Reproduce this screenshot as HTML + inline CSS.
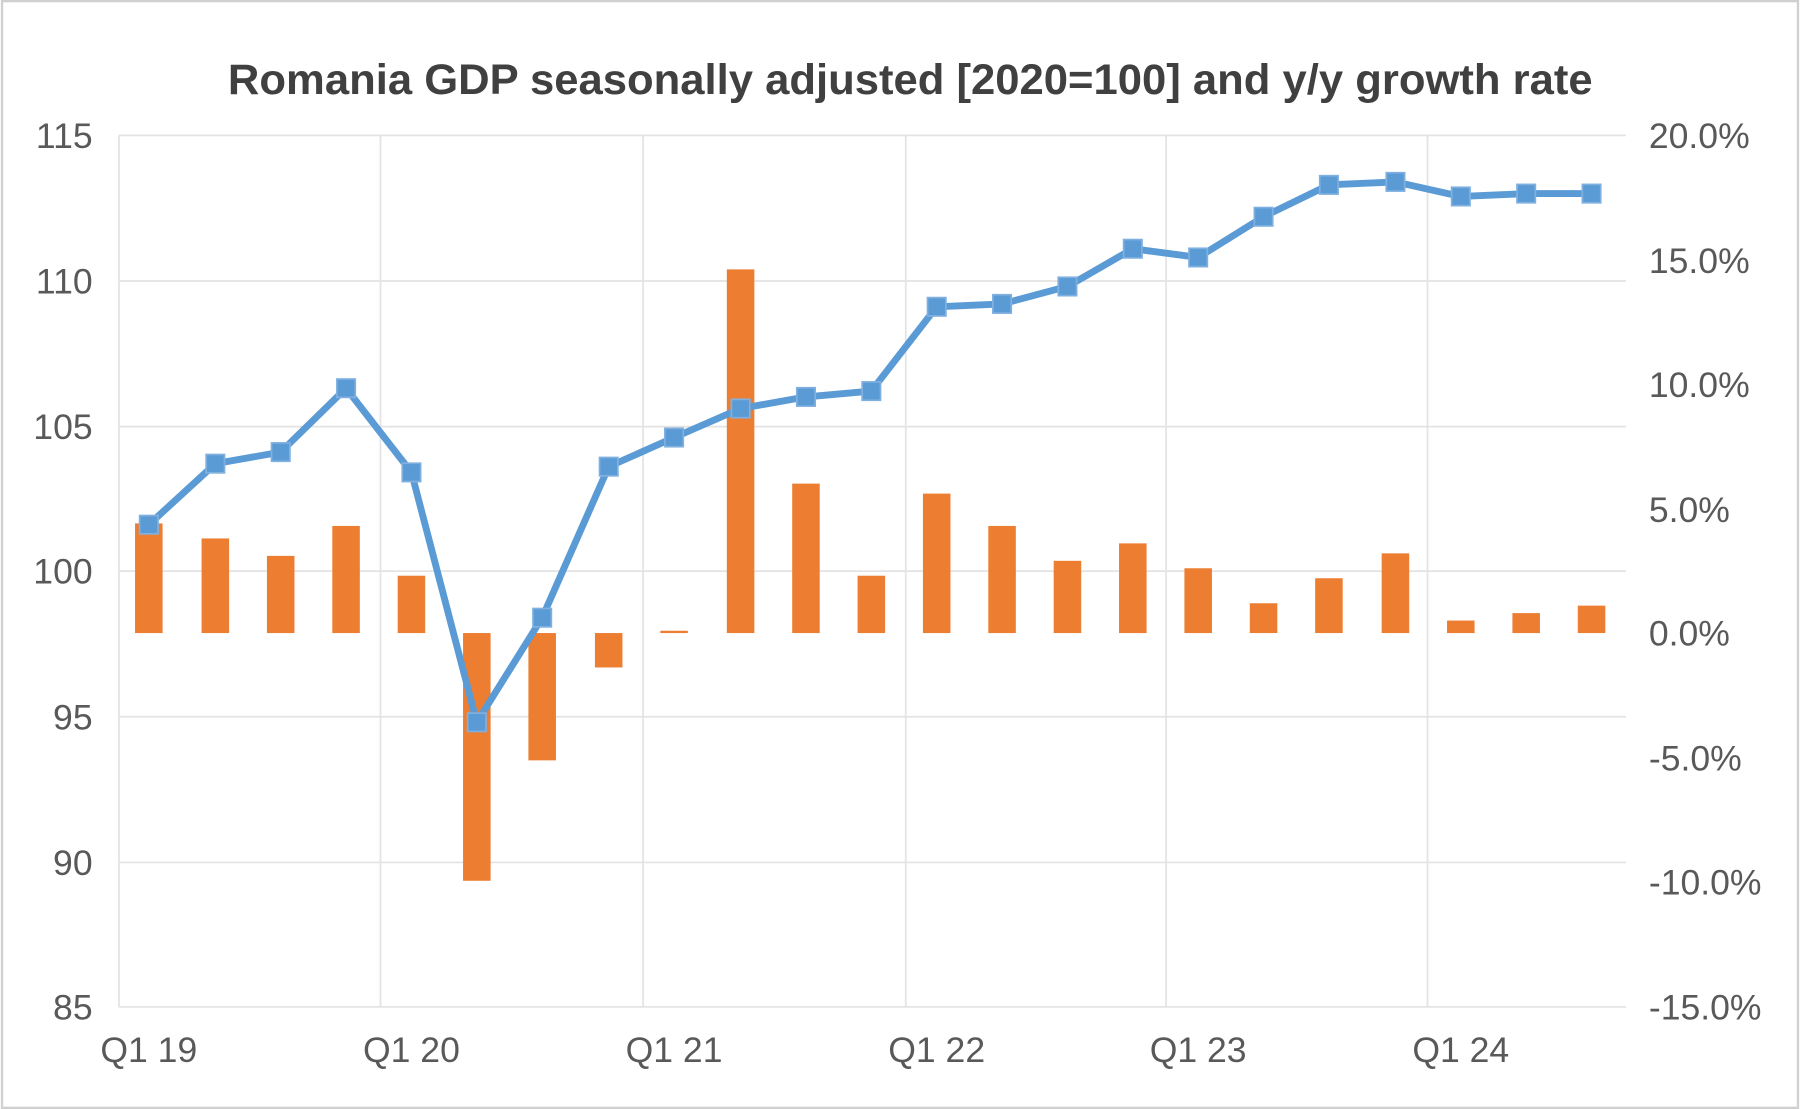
<!DOCTYPE html>
<html><head><meta charset="utf-8"><style>
html,body{margin:0;padding:0;background:#fff;}
svg{display:block;}
text{font-family:"Liberation Sans",Arial,sans-serif;}
</style></head><body>
<svg width="1800" height="1109" viewBox="0 0 1568 967" xmlns="http://www.w3.org/2000/svg">
<rect x="1" y="1" width="1566" height="965" fill="#fff" stroke="#d0d0d0" stroke-width="2"/>
<text x="793" y="82" text-anchor="middle" font-size="37" font-weight="bold" fill="#404040" textLength="1190" lengthAdjust="spacingAndGlyphs">Romania GDP seasonally adjusted [2020=100] and y/y growth rate</text>
<g stroke="#e3e3e3" stroke-width="1.5">
<line x1="103" y1="118" x2="1417" y2="118"/><line x1="103" y1="245" x2="1417" y2="245"/>
<line x1="103" y1="372" x2="1417" y2="372"/><line x1="103" y1="498" x2="1417" y2="498"/>
<line x1="103" y1="625" x2="1417" y2="625"/><line x1="103" y1="752" x2="1417" y2="752"/>
<line x1="103" y1="878" x2="1417" y2="878"/>
<line x1="103" y1="118" x2="103" y2="878"/><line x1="331" y1="118" x2="331" y2="878"/>
<line x1="560" y1="118" x2="560" y2="878"/><line x1="789" y1="118" x2="789" y2="878"/>
<line x1="1016" y1="118" x2="1016" y2="878"/><line x1="1244" y1="118" x2="1244" y2="878"/>
</g>
<g font-size="31" fill="#595959" text-anchor="end">
<text x="80" y="129">115</text><text x="80" y="256">110</text><text x="80" y="383">105</text>
<text x="80" y="509">100</text><text x="80" y="636">95</text><text x="80" y="763">90</text><text x="80" y="889">85</text>
</g>
<g font-size="31" fill="#595959" text-anchor="start">
<text x="1437" y="129">20.0%</text><text x="1437" y="238">15.0%</text><text x="1437" y="346">10.0%</text>
<text x="1437" y="455">5.0%</text><text x="1437" y="563">0.0%</text><text x="1437" y="672">-5.0%</text>
<text x="1437" y="780">-10.0%</text><text x="1437" y="889">-15.0%</text>
</g>
<g font-size="31" fill="#595959" text-anchor="middle">
<text x="129" y="926">Q1 19</text><text x="358" y="926">Q1 20</text><text x="587" y="926">Q1 21</text>
<text x="816" y="926">Q1 22</text><text x="1044" y="926">Q1 23</text><text x="1273" y="926">Q1 24</text>
</g>
<g fill="#ED7D31">
<rect x="117" y="456.4" width="24" height="95.6"/>
<rect x="175" y="469.5" width="24" height="82.5"/>
<rect x="232" y="484.7" width="24" height="67.3"/>
<rect x="289" y="458.6" width="24" height="93.4"/>
<rect x="346" y="502" width="24" height="50"/>
<rect x="403" y="552" width="24" height="216"/>
<rect x="460" y="552" width="24" height="111"/>
<rect x="518" y="552" width="24" height="30"/>
<rect x="575" y="550" width="24" height="2"/>
<rect x="633" y="234.9" width="24" height="317.1"/>
<rect x="690" y="421.7" width="24" height="130.3"/>
<rect x="747" y="502" width="24" height="50"/>
<rect x="804" y="430.4" width="24" height="121.6"/>
<rect x="861" y="458.6" width="24" height="93.4"/>
<rect x="918" y="489" width="24" height="63"/>
<rect x="975" y="473.8" width="24" height="78.2"/>
<rect x="1032" y="495.5" width="24" height="56.5"/>
<rect x="1089" y="526" width="24" height="26"/>
<rect x="1146" y="504.2" width="24" height="47.8"/>
<rect x="1204" y="482.5" width="24" height="69.5"/>
<rect x="1261" y="541.1" width="24" height="10.9"/>
<rect x="1318" y="534.6" width="24" height="17.4"/>
<rect x="1375" y="528.1" width="24" height="23.9"/>
</g>
<polyline fill="none" stroke="#5B9BD5" stroke-width="6" stroke-linejoin="round" points="129,457.5 187,404.3 244,394.2 301,338.5 358,411.9 415,629.8 472,538.6 530,406.9 587,381.5 645,356.2 702,346.1 759,341 816,267.5 873,265 930,249.8 987,216.9 1044,224.5 1101,189 1158,161.2 1216,158.6 1273,171.3 1330,168.8 1387,168.8"/>
<g fill="#5B9BD5" stroke="#7fb0e0" stroke-width="1.5">
<rect x="121" y="449.5" width="16" height="16"/>
<rect x="179" y="396.3" width="16" height="16"/>
<rect x="236" y="386.2" width="16" height="16"/>
<rect x="293" y="330.5" width="16" height="16"/>
<rect x="350" y="403.9" width="16" height="16"/>
<rect x="407" y="621.8" width="16" height="16"/>
<rect x="464" y="530.6" width="16" height="16"/>
<rect x="522" y="398.9" width="16" height="16"/>
<rect x="579" y="373.5" width="16" height="16"/>
<rect x="637" y="348.2" width="16" height="16"/>
<rect x="694" y="338.1" width="16" height="16"/>
<rect x="751" y="333" width="16" height="16"/>
<rect x="808" y="259.5" width="16" height="16"/>
<rect x="865" y="257" width="16" height="16"/>
<rect x="922" y="241.8" width="16" height="16"/>
<rect x="979" y="208.9" width="16" height="16"/>
<rect x="1036" y="216.5" width="16" height="16"/>
<rect x="1093" y="181" width="16" height="16"/>
<rect x="1150" y="153.2" width="16" height="16"/>
<rect x="1208" y="150.6" width="16" height="16"/>
<rect x="1265" y="163.3" width="16" height="16"/>
<rect x="1322" y="160.8" width="16" height="16"/>
<rect x="1379" y="160.8" width="16" height="16"/>
</g>
</svg>
</body></html>
